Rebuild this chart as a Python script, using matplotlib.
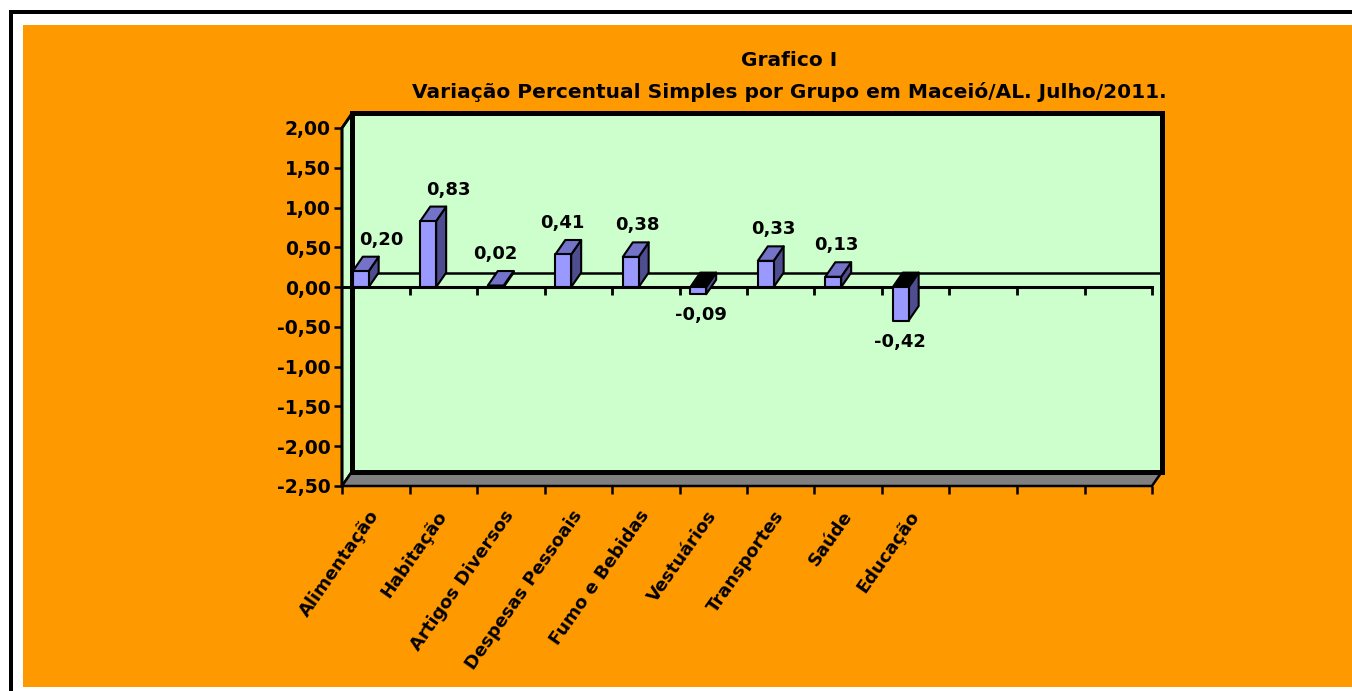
import matplotlib
matplotlib.use("Agg")
import matplotlib.pyplot as plt
from matplotlib.patches import Rectangle, Polygon
from matplotlib.markers import TICKDOWN

# ---- data ----
categories = ["Alimentação", "Habitação", "Artigos Diversos", "Despesas Pessoais",
              "Fumo e Bebidas", "Vestuários", "Transportes", "Saúde", "Educação"]
values = [0.20, 0.83, 0.02, 0.41, 0.38, -0.09, 0.33, 0.13, -0.42]
value_labels = ["0,20", "0,83", "0,02", "0,41", "0,38", "-0,09", "0,33", "0,13", "-0,42"]
n_slots = 12
yticks = [2.0, 1.5, 1.0, 0.5, 0.0, -0.5, -1.0, -1.5, -2.0, -2.5]
ytick_labels = ["2,00", "1,50", "1,00", "0,50", "0,00", "-0,50", "-1,00", "-1,50", "-2,00", "-2,50"]
title_lines = ["Grafico I", "Variação Percentual Simples por Grupo em Maceió/AL. Julho/2011."]

# ---- style ----
ORANGE = "#FF9900"
WALL = "#CCFFCC"
FLOOR = "#808080"
FRONT = "#9999FF"
TOP = "#7373C9"
SIDE = "#4D4D8F"
label_nudge_px = [21, 20, 0, -1, 7, 2.5, 7.5, 3.5, -0.5]

W, H = 1352, 691
DPI = 100
PX = 72.0 / DPI  # points per pixel
plt.rcParams['font.family'] = ['DejaVu Sans']
fig = plt.figure(figsize=(W / DPI, H / DPI), dpi=DPI, facecolor="white")

# frame pieces
def fr(x0, y0, x1, y1):
    return (x0 / W, 1 - y1 / H, (x1 - x0) / W, (y1 - y0) / H)

for (x0, y0, x1, y1, c) in [(23, 25, W, 687, ORANGE), (9, 10, W, 14, "black"), (9, 10, 13, H, "black")]:
    l, b, w, h = fr(x0, y0, x1, y1)
    fig.add_artist(Rectangle((l, b), w, h, transform=fig.transFigure, facecolor=c,
                             edgecolor="none", zorder=0))

# axes geometry (front plane: x 0..12 -> px 342..1152 ; y -2.5..2.0 -> px 486..128)
px_x = (1152 - 342) / n_slots
px_y = (486 - 128) / 4.5
dx = 10 / px_x
dy = 14.5 / px_y
ymin, ymax = -2.5, 2.0
ax_left, ax_right = 342, 1152 + 10
ax_bottom, ax_top = 486, 128 - 14.5
ax = fig.add_axes(fr(ax_left, ax_top, ax_right, ax_bottom))
ax.set_xlim(0, n_slots + dx)
ax.set_ylim(ymin, ymax + dy)
ax.patch.set_visible(False)
for s in ax.spines.values():
    s.set_visible(False)

# walls
ax.add_patch(Polygon([(dx, ymin + dy), (n_slots + dx, ymin + dy), (n_slots + dx, ymax + dy), (dx, ymax + dy)],
                     closed=True, facecolor=WALL, edgecolor="black", lw=3.6, zorder=1, clip_on=False,
                     joinstyle="miter"))
ax.add_patch(Polygon([(0, ymin), (dx, ymin + dy), (dx, ymax + dy), (0, ymax)],
                     closed=True, facecolor=WALL, edgecolor="black", lw=1.8, zorder=1.1, clip_on=False))
ax.add_patch(Polygon([(0, ymin), (n_slots, ymin), (n_slots + dx, ymin + dy), (dx, ymin + dy)],
                     closed=True, facecolor=FLOOR, edgecolor="black", lw=1.8, zorder=1.2, clip_on=False))
ax.plot([dx, dx], [ymin + dy, ymax + dy], color="black", lw=3.6, zorder=1.3, clip_on=False,
        solid_capstyle="projecting")
ax.plot([dx, n_slots + dx], [ymin + dy, ymin + dy], color="black", lw=3.6, zorder=1.3, clip_on=False,
        solid_capstyle="projecting")

# back wall zero gridline
ax.plot([dx, n_slots + dx], [dy, dy], color="black", lw=1.8, zorder=2, clip_on=False)
# front zero line with ticks
ax.plot([0, n_slots], [0, 0], color="black", lw=2.2, zorder=2, clip_on=False)
ax.plot(list(range(1, n_slots + 1)), [0] * n_slots, ls="none", marker=TICKDOWN, ms=6, mew=2,
        color="black", zorder=2, clip_on=False)
# front left edge
ax.plot([0, 0, dx], [ymin, ymax, ymax + dy], color="black", lw=2.0, zorder=2.5, clip_on=False)

# bars
off, bw = 0.16, 0.235
for i, v in enumerate(values):
    x0 = i + off
    x1 = x0 + bw
    lo, hi = min(0, v), max(0, v)
    kw = dict(closed=True, edgecolor="black", lw=1.5, zorder=3 + i * 0.01, clip_on=False,
              joinstyle="round")
    ax.add_patch(Polygon([(x1, lo), (x1, hi), (x1 + dx, hi + dy), (x1 + dx, lo + dy)], facecolor=SIDE, **kw))
    ax.add_patch(Polygon([(x0, hi), (x1, hi), (x1 + dx, hi + dy), (x0 + dx, hi + dy)],
                         facecolor=TOP if v >= 0 else "black", **kw))
    ax.add_patch(Polygon([(x0, lo), (x1, lo), (x1, hi), (x0, hi)], facecolor=FRONT, **kw))
    cx = x0 + bw / 2
    if v >= 0:
        ax.annotate(value_labels[i], (cx, v + dy), xytext=(label_nudge_px[i] * PX, 17 * PX),
                    textcoords="offset points", ha="center", va="center",
                    fontsize=13, fontweight="bold", zorder=5, annotation_clip=False)
    else:
        ax.annotate(value_labels[i], (cx, v), xytext=(label_nudge_px[i] * PX, -21 * PX),
                    textcoords="offset points", ha="center", va="center",
                    fontsize=13, fontweight="bold", zorder=5, annotation_clip=False)

# y axis ticks
ax.set_yticks(yticks)
ax.set_yticklabels(ytick_labels, fontsize=13.5, fontweight="bold")
ax.tick_params(axis="y", direction="out", length=6, width=1.8, pad=2)

# x axis: boundary ticks (major) and labels at centers (minor)
ax.set_xticks(list(range(0, n_slots + 1)))
ax.set_xticklabels([""] * (n_slots + 1))
ax.tick_params(axis="x", which="major", direction="out", length=6, width=1.8)
ax.set_xticks([i + 0.5 for i in range(len(categories))], minor=True)
ax.set_xticklabels(categories, minor=True, rotation=55, ha="right", rotation_mode="anchor",
                   fontsize=13, fontweight="bold")
ax.tick_params(axis="x", which="minor", length=0, pad=19)
for t in ax.get_xticklabels(minor=True):
    t.set_va("center")

# title
fig.text(789 / W, 1 - 61 / H, title_lines[0], ha="center", va="center", fontsize=14.5, fontweight="bold")
fig.text(789 / W, 1 - 92 / H, title_lines[1], ha="center", va="center", fontsize=14.5, fontweight="bold")

fig.savefig("out.png", dpi=DPI, facecolor="white")
